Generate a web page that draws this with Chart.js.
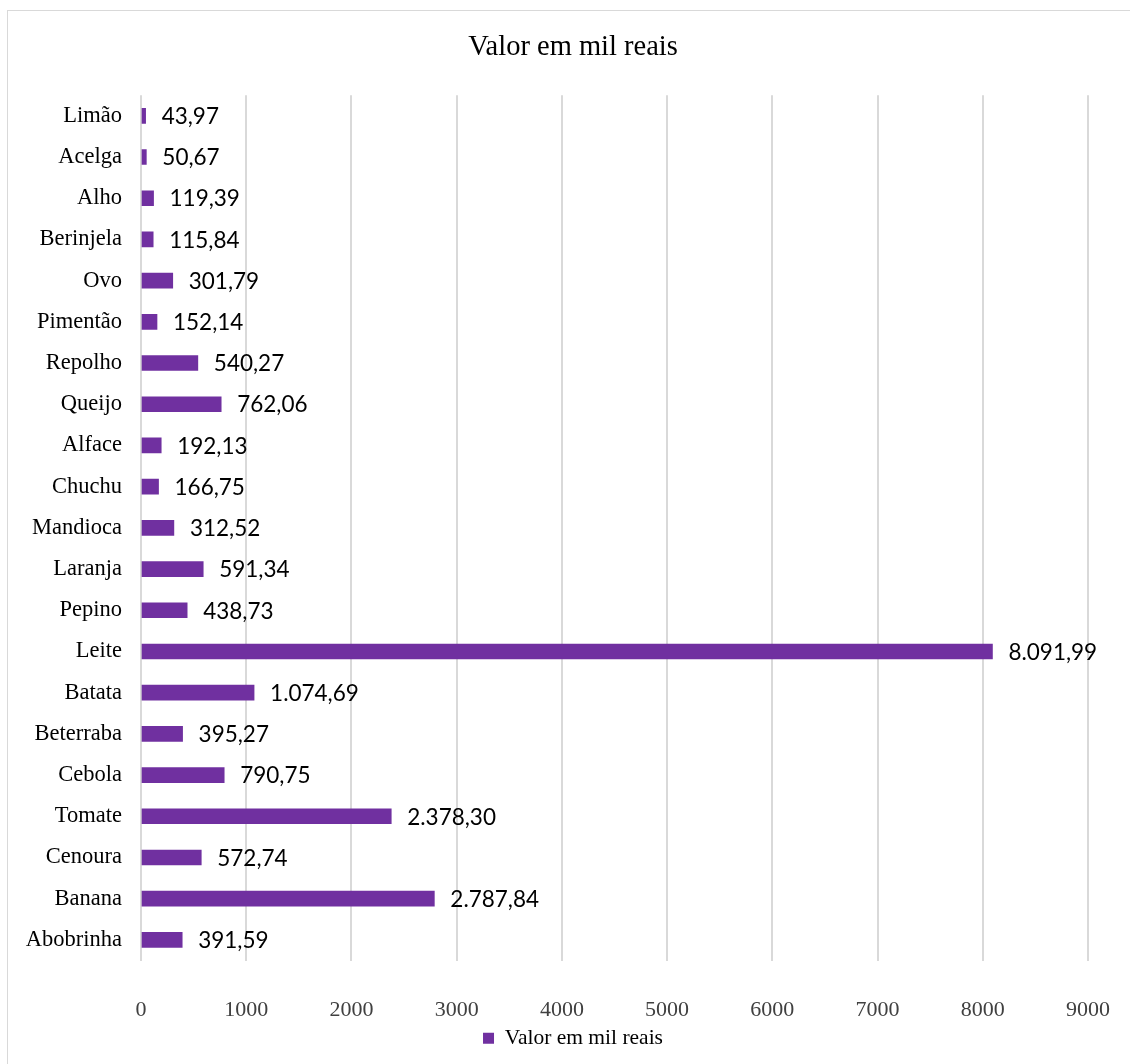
<!DOCTYPE html>
<html>
<head>
<meta charset="utf-8">
<script src="https://cdn.jsdelivr.net/npm/chart.js@4"></script>
<style>
  html, body { margin: 0; padding: 0; background: #fff; overflow: hidden; }
  #wrap { position: relative; width: 1130px; height: 1064px; overflow: hidden; }
  #frame { position: absolute; left: 7px; top: 10px; width: 1200px; height: 1100px; border: 1px solid #d9d9d9; }
  #chart { position: absolute; left: 0; top: 0; }
</style>
</head>
<body>
<div id="wrap">
  <div id="frame"></div>
  <canvas id="chart" width="1146" height="1064"></canvas>
</div>
<script>
const categories = ['Limão', 'Acelga', 'Alho', 'Berinjela', 'Ovo', 'Pimentão', 'Repolho', 'Queijo', 'Alface', 'Chuchu', 'Mandioca', 'Laranja', 'Pepino', 'Leite', 'Batata', 'Beterraba', 'Cebola', 'Tomate', 'Cenoura', 'Banana', 'Abobrinha'];
const values = [43.97, 50.67, 119.39, 115.84, 301.79, 152.14, 540.27, 762.06, 192.13, 166.75, 312.52, 591.34, 438.73, 8091.99, 1074.69, 395.27, 790.75, 2378.30, 572.74, 2787.84, 391.59];
const xTicks = [0, 1000, 2000, 3000, 4000, 5000, 6000, 7000, 8000, 9000];

const serif = '"Liberation Serif", "Times New Roman", serif';
const purple = '#7030A0';

// 8091.99 -> "8.091,99"
function fmt(v) {
  const parts = v.toFixed(2).split('.');
  return parts[0].replace(/\B(?=(\d{3})+(?!\d))/g, '.') + ',' + parts[1];
}

// value labels to the right of each bar
const barLabels = {
  id: 'barLabels',
  afterDatasetsDraw(chart) {
    const ctx = chart.ctx;
    const meta = chart.getDatasetMeta(0);
    ctx.save();
    ctx.font = '22.5px Lato, "Open Sans", sans-serif';
    ctx.fillStyle = '#000';
    ctx.textAlign = 'left';
    ctx.textBaseline = 'middle';
    meta.data.forEach((bar, i) => {
      ctx.fillText(fmt(values[i]), bar.x + 16, bar.y + 1);
    });
    ctx.restore();
  }
};

new Chart(document.getElementById('chart'), {
  type: 'bar',
  data: {
    labels: categories,
    datasets: [{
      label: 'Valor em mil reais',
      data: values,
      backgroundColor: purple,
      borderWidth: 0,
      barThickness: 15
    }]
  },
  options: {
    indexAxis: 'y',
    responsive: false,
    animation: false,
    layout: { padding: { left: 0, right: 0, top: 0, bottom: 5 } },
    plugins: {
      title: {
        display: true,
        text: 'Valor em mil reais',
        color: '#000',
        font: { family: serif, size: 28.5, weight: 'normal' },
        padding: { top: 30, bottom: 31 }
      },
      legend: {
        position: 'bottom',
        labels: {
          color: '#000',
          font: { family: serif, size: 21.5 },
          boxWidth: 11,
          boxHeight: 11,
          padding: 10
        }
      },
      tooltip: { enabled: false }
    },
    scales: {
      x: {
        min: 0,
        max: 9000,
        afterBuildTicks(scale) { scale.ticks = xTicks.map(v => ({ value: v })); },
        afterFit(scale) { scale.height = 57; scale.paddingRight = 58; },
        grid: { color: '#d9d9d9', lineWidth: 2, drawTicks: false },
        border: { display: false },
        ticks: {
          color: '#404040',
          padding: 37,
          font: { family: serif, size: 22 },
          callback: v => String(v)
        }
      },
      y: {
        afterFit(scale) { scale.width = 141; },
        grid: { display: false, drawTicks: false },
        border: { display: false },
        ticks: {
          color: '#000',
          padding: 19,
          font: { family: serif, size: 22.5 }
        }
      }
    }
  },
  plugins: [barLabels]
});
</script>
</body>
</html>
